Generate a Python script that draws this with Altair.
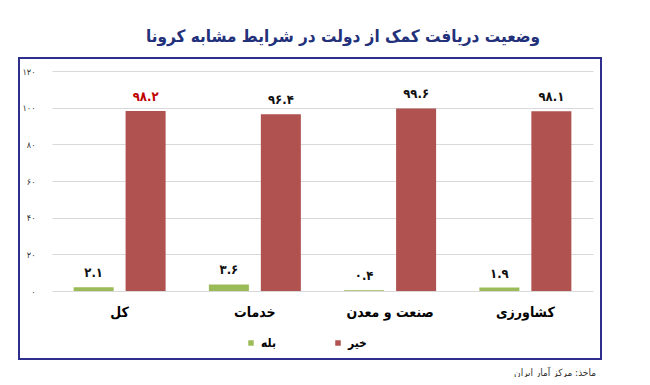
import altair as alt
import pandas as pd

categories = ["کل", "خدمات", "صنعت و معدن", "کشاورزی"]
answers = ["بله", "خیر"]
yes_values = [2.1, 3.6, 0.4, 1.9]
no_values = [98.2, 96.4, 99.6, 98.1]
y_ticks = [0, 20, 40, 60, 80, 100, 120]
title_text = "وضعیت دریافت کمک از دولت در شرایط مشابه کرونا"
source_text = "ماخذ: مرکز آمار ایران"
bar_colors = ["#9BBB59", "#B0524F"]

FA = str.maketrans("0123456789", "۰۱۲۳۴۵۶۷۸۹")
def fa(v):
    return str(v).translate(FA)

rows = []
for i, c in enumerate(categories):
    rows.append({"cat": c, "ans": answers[0], "value": yes_values[i],
                 "label": fa(yes_values[i]), "lc": "#111111"})
    rows.append({"cat": c, "ans": answers[1], "value": no_values[i],
                 "label": fa(no_values[i]), "lc": "#C00000" if i == 0 else "#111111"})
df = pd.DataFrame(rows)

label_expr = " : ".join(f"datum.value == {t} ? '{fa(t)}'" for t in y_ticks) + " : ''"
FONT = "DejaVu Sans Condensed, DejaVu Sans"

x_enc = alt.X("cat:N", sort=categories, title=None,
              scale=alt.Scale(paddingInner=0.32, paddingOuter=0.16),
              axis=alt.Axis(labelAngle=0, ticks=False, domain=False, labelFont=FONT,
                            labelFontSize=14, labelFontWeight="bold", labelColor="#000000",
                            labelPadding=14))
xo_enc = alt.XOffset("ans:N", sort=answers, scale=alt.Scale(paddingInner=0.23))
y_enc = alt.Y("value:Q", title=None, scale=alt.Scale(domain=[0, 120]),
              axis=alt.Axis(values=y_ticks, labelExpr=label_expr, ticks=False, domain=False,
                            labelFont=FONT, labelFontSize=9, labelColor="#333333",
                            labelPadding=17, gridColor="#D9D9D9"))

base = alt.Chart(df)
bars = base.mark_bar().encode(
    x=x_enc, xOffset=xo_enc, y=y_enc,
    color=alt.Color("ans:N", sort=answers, title=None,
                    scale=alt.Scale(domain=answers, range=bar_colors),
                    legend=alt.Legend(orient="none", legendX=193, legendY=266,
                                      direction="horizontal", symbolType="square",
                                      symbolSize=30, labelFont=FONT, labelFontSize=12,
                                      labelFontWeight="bold", labelColor="#000000",
                                      columnPadding=55, padding=0, labelOffset=4)),
)
texts = base.mark_text(font=FONT, fontSize=13, fontWeight="bold", baseline="middle", dy=-14).encode(
    x=x_enc, xOffset=xo_enc, y=y_enc,
    text="label:N", color=alt.Color("lc:N", scale=None),
)

one = pd.DataFrame({"t": [title_text]})
frame = alt.Chart(one).mark_rect(filled=False, stroke="#2E2F8C", strokeWidth=2).encode(
    x=alt.value(-33), x2=alt.value(549), y=alt.value(-13), y2=alt.value(288))
title = alt.Chart(one).mark_text(font=FONT, fontSize=17, fontWeight="bold", color="#23307A",
                                 align="center", baseline="middle").encode(
    x=alt.value(291), y=alt.value(-34), text="t:N")
src = alt.Chart(pd.DataFrame({"t": [source_text]})).mark_text(
    font=FONT, fontSize=10, color="#333333", align="right", baseline="middle").encode(
    x=alt.value(544), y=alt.value(302), text="t:N")

chart = alt.layer(bars, texts, frame, title, src).properties(
    width=541, height=220,
    autosize=alt.AutoSizeParams(type="none"),
    padding={"left": 44, "top": 63, "right": 49, "bottom": 86},
).configure_view(stroke=None)

chart.save("out.html", embed_options={"renderer": "svg", "actions": False})
